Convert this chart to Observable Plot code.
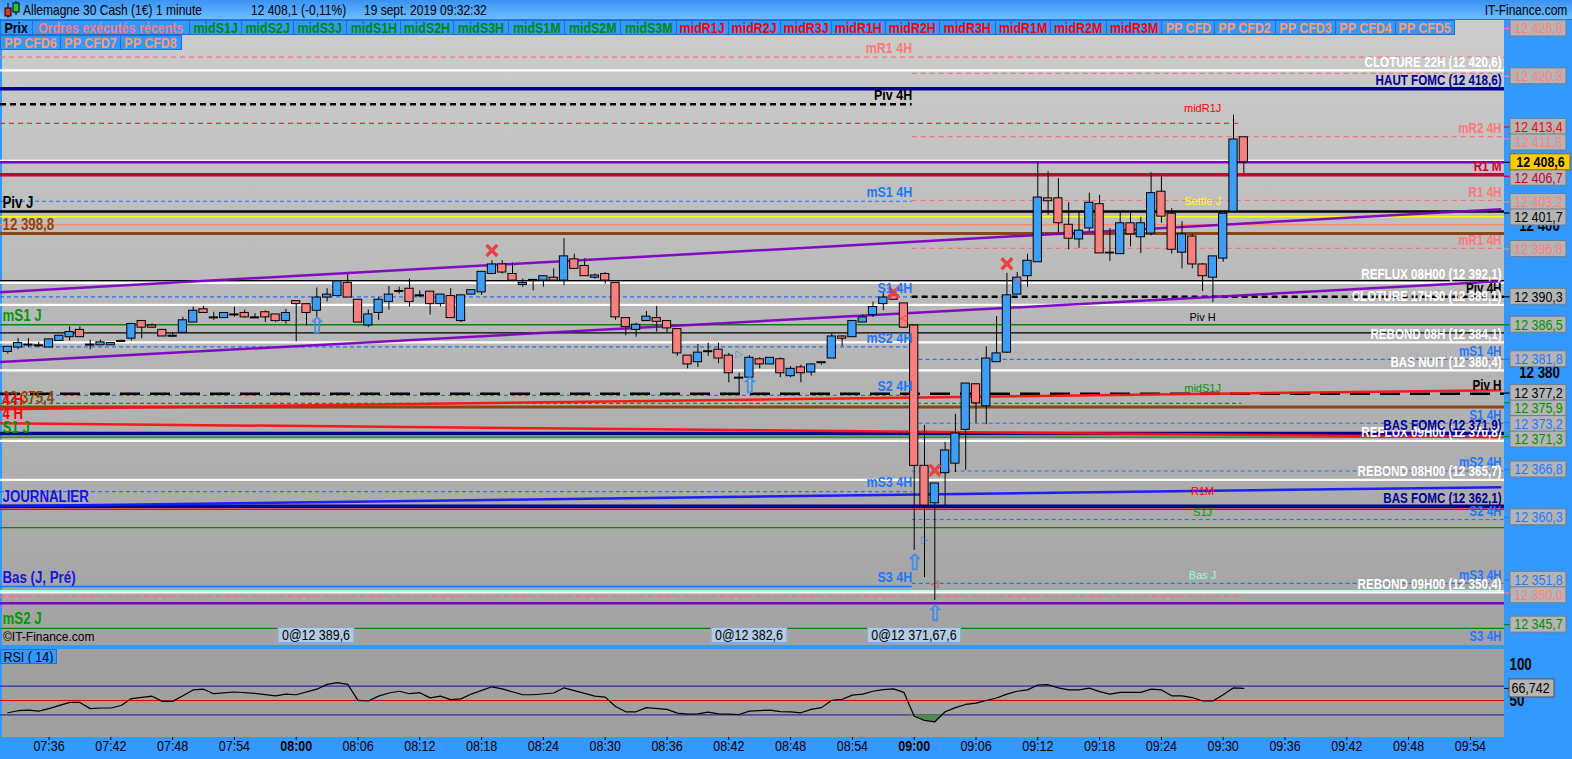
<!DOCTYPE html>
<html>
<head>
<meta charset="utf-8">
<script src="https://cdn.jsdelivr.net/npm/d3@7"></script>
<script src="https://cdn.jsdelivr.net/npm/@observablehq/plot@0.6"></script>
<style>
html,body{margin:0;padding:0}
body{width:1572px;height:759px;overflow:hidden;position:relative;background:#3399ff;font-family:"Liberation Sans Narrow","Arial Narrow","Liberation Sans",sans-serif}
.abs{position:absolute}
#title{left:0;top:0;width:1572px;height:19px;background:linear-gradient(#3a93f2,#6dbdff);border-bottom:1px solid #2277dd;font-size:15px;line-height:19px;color:#000}
#title span{position:absolute;top:0;white-space:nowrap;transform:scaleX(0.8);transform-origin:0 50%}
#title span.r{transform-origin:100% 50%}
#mainbg{left:2px;top:20px;width:1502px;height:625px;background:linear-gradient(#cccccc,#a2a2a2)}
#rsibg{left:2px;top:649px;width:1502px;height:88px;background:#a0a0a0}
.btn{position:absolute;box-sizing:border-box;height:15px;background:#3399ff;border:1px solid #1d70d6;font-weight:bold;font-size:15px;line-height:13px;display:flex;justify-content:center;white-space:nowrap;overflow:hidden}
.btn span{flex-shrink:0;display:inline-block;transform:scaleX(0.83);transform-origin:50% 50%}
.tag{position:absolute;box-sizing:border-box;height:16px;background:#b3cbe3;border:1px solid #86aad0;font-size:15px;line-height:14px;padding:0 4px;color:#000;white-space:nowrap;transform:translateX(-50%) scaleX(0.83)}
.rsilab{left:0;top:649px;width:57px;height:15px;background:#3399ff;border:1px solid #1d70d6;box-sizing:border-box;font-size:15px;line-height:13px;white-space:nowrap;overflow:hidden}
.rsilab span{display:inline-block;transform:scaleX(0.83);transform-origin:0 50%;padding-left:3px}
svg{overflow:visible}
</style>
</head>
<body>
<div id="title" class="abs">
  <svg width="18" height="19" style="position:absolute;left:3px;top:0"><line x1="5" y1="3" x2="5" y2="18" stroke="#000"/><rect x="2" y="8" width="6" height="8" fill="#e03030" stroke="#000"/><line x1="13" y1="1" x2="13" y2="15" stroke="#000"/><rect x="10" y="3" width="6" height="9" fill="#30c030" stroke="#000"/></svg>
  <span style="left:23px">Allemagne 30 Cash (1€)</span>
  <span style="left:156px">1 minute</span>
  <span style="left:251px">12 408,1 (-0,11%)</span>
  <span style="left:364px">19 sept. 2019 09:32:32</span>
  <span class="r" style="right:5px">IT-Finance.com</span>
</div>
<div id="mainbg" class="abs"></div>
<div id="rsibg" class="abs"></div>
<div class="abs" style="left:0;top:20px;width:2px;height:717px;background:#3399ff"></div>
<div id="main" class="abs" style="left:0;top:20px"></div>
<div id="axis" class="abs" style="left:1504px;top:20px"></div>
<div id="rsi" class="abs" style="left:0;top:648px"></div>
<div id="rsiaxis" class="abs" style="left:1504px;top:648px"></div>
<div id="buttons"></div>
<div id="tags"></div>
<div class="abs" style="left:3px;top:630px;font-size:12px;font-family:'Liberation Sans',sans-serif;color:#000">©IT-Finance.com</div>
<div class="abs rsilab"><span>RSI ( 14)</span></div>
<script>
// ================= DATA =================
const candleTime = ["07:32","07:33","07:34","07:35","07:36","07:37","07:38","07:39","07:40","07:41","07:42","07:43","07:44","07:45","07:46","07:47","07:48","07:49","07:50","07:51","07:52","07:53","07:54","07:55","07:56","07:57","07:58","07:59",
"08:00","08:01","08:02","08:03","08:04","08:05","08:06","08:07","08:08","08:09","08:10","08:11","08:12","08:13","08:14","08:15","08:16","08:17","08:18","08:19","08:20","08:21","08:22","08:23","08:24","08:25","08:26","08:27","08:28","08:29",
"08:30","08:31","08:32","08:33","08:34","08:35","08:36","08:37","08:38","08:39","08:40","08:41","08:42","08:43","08:44","08:45","08:46","08:47","08:48","08:49","08:50","08:51","08:52","08:53","08:54","08:55","08:56","08:57","08:58","08:59",
"09:00","09:01","09:02","09:03","09:04","09:05","09:06","09:07","09:08","09:09","09:10","09:11","09:12","09:13","09:14","09:15","09:16","09:17","09:18","09:19","09:20","09:21","09:22","09:23","09:24","09:25","09:26","09:27","09:28","09:29","09:30","09:31","09:32"];

const candleOpen = [12382.8,12383.4,12383.8,12383.7,12383.4,12384.3,12384.8,12385.8,12383.8,12383.7,12383.7,12384.3,12384.6,12387.0,12386.4,12385.8,12385.0,12385.4,12386.8,12388.6,12387.5,12387.4,12387.9,12388.1,12387.5,12388.2,12387.9,12387.0,
12389.7,12389.3,12388.4,12390.2,12390.4,12392.2,12389.9,12386.4,12388.1,12389.6,
12391.1,12391.4,12390.5,12391.0,12389.3,12390.4,12387.0,12390.6,12390.9,12393.4,
12394.7,12393.4,12391.9,12392.6,12392.5,12392.9,12392.5,12395.4,12394.5,12392.9,
12393.4,12392.2,12387.4,12385.8,12387.0,12387.4,12387.0,12385.9,12382.3,12381.4,
12382.9,12383.1,12382.3,12379.3,12379.3,12381.8,12381.1,12381.8,12379.5,12380.7,
12380.0,12381.4,12381.9,12384.9,12384.8,12386.8,12387.8,12389.3,12390.5,12389.4,
12386.4,12367.3,12362.2,12366.3,12367.6,12372.2,12378.4,12375.4,12381.4,12382.7,
12390.6,12393.1,12395.0,12403.7,12403.7,12400.1,12398.1,12399.6,12402.9,12396.3,
12396.1,12400.3,12398.4,12398.9,12404.6,12401.6,12396.3,12398.5,12394.7,12392.9,
12395.5,12401.9,12412.0];

const candleHigh = [12383.5,12384.6,12384.6,12384.1,12384.5,12385.0,12386.2,12386.2,12384.4,12384.4,12384.0,12384.4,12386.7,12387.1,12386.6,12385.8,12385.3,12387.5,12388.9,12389.0,12388.2,12388.1,12388.9,12388.5,12388.0,12388.4,12387.9,12388.6,
12389.7,12389.4,12391.5,12391.4,12392.4,12393.3,12389.9,12388.5,12390.2,12391.7,
12391.6,12392.7,12391.1,12391.0,12390.6,12391.4,12390.5,12391.2,12393.7,12395.2,
12395.2,12394.9,12392.7,12392.6,12393.1,12394.1,12398.2,12396.1,12395.5,12393.4,
12393.6,12392.2,12387.4,12386.7,12388.3,12389.0,12387.0,12385.9,12382.3,12383.8,
12384.0,12384.0,12382.6,12379.9,12382.3,12382.0,12382.0,12382.0,12380.8,12381.0,
12381.2,12381.5,12385.3,12385.0,12387.0,12387.8,12389.6,12390.8,12391.2,12389.4,
12386.4,12372.8,12364.9,12370.5,12374.3,12378.5,12378.4,12383.5,12387.6,12393.5,
12393.6,12396.1,12408.6,12407.3,12406.4,12403.1,12401.8,12404.4,12404.1,12399.6,
12401.8,12401.8,12401.1,12407.2,12406.7,12402.3,12400.5,12398.8,12394.8,12395.8,
12401.6,12415.0,12412.0];

const candleLow = [12382.5,12383.1,12383.4,12383.4,12383.4,12384.3,12384.3,12384.8,12383.1,12383.7,12383.7,12384.2,12384.3,12384.6,12386.0,12384.9,12384.8,12385.3,12386.8,12388.1,12387.1,12387.4,12387.5,12387.4,12387.4,12386.8,12386.8,12386.6,
12384.2,12386.3,12387.4,12389.6,12390.4,12390.2,12386.8,12386.1,12387.1,12388.5,
12390.7,12388.9,12390.2,12387.8,12388.9,12387.4,12386.8,12390.6,12390.5,12393.4,
12393.4,12392.5,12391.6,12391.1,12391.6,12392.5,12391.8,12394.1,12393.1,12392.7,
12392.0,12387.1,12385.0,12384.8,12387.0,12385.5,12385.4,12382.2,12380.5,12380.7,
12382.2,12381.2,12378.6,12377.0,12379.3,12380.5,12381.1,12379.3,12379.3,12378.6,
12379.5,12381.0,12381.9,12383.5,12384.8,12386.8,12387.5,12388.4,12389.9,12386.0,
12355.8,12352.1,12349.0,12361.9,12366.4,12366.7,12373.1,12372.9,12381.4,12382.6,
12390.6,12391.6,12395.0,12401.4,12399.0,12396.7,12396.9,12399.2,12396.2,12395.1,
12396.1,12397.1,12396.2,12398.6,12400.3,12396.1,12394.1,12394.1,12391.0,12389.5,
12395.0,12401.8,12407.1];

const candleClose = [12383.5,12384.0,12383.8,12383.7,12384.5,12385.0,12385.5,12384.8,12383.8,12384.1,12384.0,12384.3,12386.6,12386.1,12386.1,12384.9,12385.0,12387.1,12388.4,12388.1,12387.5,12388.1,12387.9,12387.5,12387.5,12387.5,12387.0,12388.1,
12389.3,12388.1,12390.2,12390.6,12392.4,12390.2,12386.8,12387.9,12389.9,12390.6,
12391.1,12389.6,12390.5,12389.3,12390.6,12387.4,12390.5,12391.2,12393.7,12394.7,
12393.6,12392.5,12392.2,12392.6,12393.1,12392.5,12395.8,12394.1,12393.1,12393.2,
12392.5,12387.5,12386.2,12386.5,12387.6,12386.9,12386.0,12382.6,12381.1,12382.7,
12382.9,12381.9,12379.9,12379.3,12382.0,12381.1,12382.0,12379.9,12380.5,12379.9,
12381.1,12381.4,12384.9,12384.6,12387.0,12387.5,12388.9,12390.2,12389.9,12386.1,
12367.3,12361.9,12364.9,12369.4,12371.7,12378.5,12375.8,12381.9,12382.6,12390.5,
12392.9,12395.2,12403.8,12403.3,12400.3,12398.2,12399.3,12403.1,12396.2,12396.2,
12400.3,12398.8,12400.3,12404.4,12401.2,12396.7,12398.8,12394.7,12393.1,12395.8,
12401.6,12411.7,12408.6];

const rsiTime = ["07:32","07:33","07:34","07:35","07:36","07:38","07:39","07:40","07:41","07:42","07:43","07:44","07:46","07:47","07:48","07:49","07:50","07:51","07:52","07:54","07:56","07:58","07:59","08:00",
"08:02","08:03","08:04","08:05","08:06","08:07","08:08","08:09","08:10","08:11","08:12","08:13","08:14","08:15","08:16","08:17","08:19","08:20","08:22","08:23","08:25","08:26","08:27",
"08:29","08:30","08:31","08:32","08:33","08:34","08:36","08:37","08:38","08:39","08:40","08:41","08:42","08:43","08:44",
"08:46","08:47","08:48","08:49","08:50","08:51","08:52","08:53","08:54","08:55","08:56","08:57","08:58","08:59",
"09:00","09:01","09:02","09:03","09:04","09:05","09:06","09:07","09:08","09:09","09:10","09:11","09:12","09:13","09:14","09:15","09:16","09:17","09:18","09:19","09:20","09:21","09:22","09:23","09:24","09:25","09:26","09:27","09:28","09:29","09:30","09:31","09:32"];
const rsiValue = [33.0,35.8,36.7,35.3,38.7,47.3,47.3,38.7,39.6,39.6,43.0,52.7,56.0,48.8,48.8,56.5,64.7,65.7,59.4,61.8,59.9,56.5,58.9,58.0,
65.7,72.4,74.8,72.4,50.2,49.3,56.0,60.4,62.8,59.4,60.8,53.6,56.0,51.2,52.2,58.9,69.0,66.1,58.0,58.0,60.4,67.6,63.7,
56.0,54.6,41.6,34.3,34.3,40.1,37.7,32.4,31.0,31.4,33.9,31.4,31.0,30.5,35.3,
36.7,34.5,34.3,32.9,37.7,40.1,50.2,51.7,57.5,58.9,62.8,65.2,66.1,61.3,
28.1,22.3,20.4,34.3,40.1,44.5,46.4,50.0,53.5,58.9,62.8,64.7,71.4,71.9,67.6,64.7,64.7,67.1,62.3,58.9,61.3,61.3,61.3,65.7,64.7,56.5,56.5,54.1,49.3,49.3,58.0,67.6,66.742];
const rsiBands = [30, 70];
const rsiMid = 50;
const rsiAxisTicks = [100, 50];

const timeTicks = ["07:36","07:42","07:48","07:54","08:00","08:06","08:12","08:18","08:24","08:30","08:36","08:42","08:48","08:54","09:00","09:06","09:12","09:18","09:24","09:30","09:36","09:42","09:48","09:54"];
const priceTicks = [12360, 12380, 12400, 12420];

// Horizontal levels: price, family, start time ("" = left edge), end time ("" = right edge)
const levelPrice  = [12422.9,12421.1,12420.7,12418.6,12416.5,12413.9,12412.1,12408.8,12408.6,12406.9,12403.3,12403.4,12401.9,12401.2,12400.1,12398.9,12396.9,12392.5,12392.2,12390.3,12390.3,12389.2,12386.5,12385.4,12384.1,12383.5,12381.8,12380.3,12377.1,12376.9,12375.8,12375.3,12373.1,12371.7,12371.2,12370.7,12366.6,12365.4,12363.8,12361.8,12361.4,12360.0,12358.9,12351.3,12350.9,12350.3,12350.1,12349.5,12348.6,12345.2];
const levelFamily = ["salmonDash","white","salmonDash","navy","blackDash","redDash","salmonDash","white","purple","crimson","blueDash","salmonDash","black2","yellow","salmonSolid","brown","salmonDash","blackThin","white","blackDash","blueDash","white","green","blackThin","white","blueDash","blueDash","white","blackLongDash","blueDash","greenDash","brown","blueDash","navy","green","white","blueDash","white","blueDash","navy","redThin","blueDash","green","blueDash","blueSolid","cyan","white","salmonDash","purple","green"];
const levelFrom   = ["","","09:00","","","","09:00","","","","","09:00","","","","","09:00","","","09:00","","","","","","","09:00","","","","","","09:00","","","","09:00","","","","","09:00","","09:00","","","","","",""];
const levelTo     = ["","","","","09:00","09:32","","","","","09:00","","","","","","","","","","09:00","","","","","09:00","","","","09:00","09:32","","","","","","","","09:00","","","","","","09:00","","","09:32","",""];

// Sloping trend lines
const trendFamily = ["purple","purple","red","red","blue"];
const trendStart = "07:31", trendEnd = "09:57";
const trendPriceStart = [12390.9, 12381.4, 12375.0, 12373.1, 12361.8];
const trendPriceEnd   = [12402.2, 12392.4, 12377.6, 12371.2, 12364.4];

// Labels right-aligned at the right edge of the chart
const rightLabelText = ["CLOTURE 22H (12 420,6)","HAUT FOMC (12 418,6)","mR2 4H","R1 M","R1 4H","mR1 4H","REFLUX 08H00 (12 392,1)","Piv 4H","CLOTURE 17H30 (12 389,1)","REBOND 08H (12 384,1)","mS1 4H","BAS NUIT (12 380,4)","Piv H","S1 4H","REFLUX 09H00 (12 370,8)","BAS FOMC (12 371,9)","mS2 4H","REBOND 08H00 (12 365,7)","BAS FOMC (12 362,1)","S2 4H","mS3 4H","REBOND 09H00 (12 350,4)","S3 4H"];
const rightLabelPrice = [12421.1,12418.6,12412.1,12406.9,12403.4,12396.9,12392.2,12390.3,12389.2,12384.1,12381.8,12380.3,12377.1,12373.1,12370.7,12371.7,12366.6,12365.4,12361.8,12360.0,12351.3,12350.1,12343.0];
const rightLabelFamily = ["white","navy","salmon","crimson","salmon","salmon","white","black","white","white","blue","white","black","blue","white","navy","blue","white","navy","blue","blue","white","blue"];
// Labels of the previous 4H session, ending at the 09:00 bar
const midLabelText = ["mR1 4H","Piv 4H","mS1 4H","S1 4H","mS2 4H","S2 4H","mS3 4H","S3 4H"];
const midLabelPrice = [12422.9,12416.5,12403.3,12390.3,12383.5,12376.9,12363.8,12350.9];
const midLabelFamily = ["salmon","black","blue","blue","blue","blue","blue","blue"];
// Labels at the left edge
const leftLabelText = ["Piv J","12 398,8","mS1 J","12 375,4","4 H","4 H","S1 J","JOURNALIER","Bas (J, Pré)","mS2 J"];
const leftLabelPrice = [12401.9,12398.9,12386.5,12375.3,12375.0,12373.1,12371.2,12361.8,12350.9,12345.2];
const leftLabelFamily = ["black","brown","green","brown","red","red","green","blueDark","blueDark","green"];
// Small labels near the last bars
const smallLabelTime = "09:28";
const smallLabelText = ["midR1J","Settle J","Piv H","midS1J","R1M","S1J","Bas J"];
const smallLabelPrice = [12413.9,12401.2,12385.4,12375.8,12361.8,12358.9,12350.3];
const smallLabelFamily = ["red","yellow","black","green","red","green","cyan"];
// Price boxes on the right axis
const axisBoxPrice = [12426.8,12420.3,12413.4,12411.8,12408.6,12406.7,12403.2,12401.7,12396.8,12390.3,12386.5,12381.8,12377.2,12375.9,12373.2,12371.3,12366.8,12360.3,12351.8,12350.0,12345.7];
const axisBoxFamily = ["salmon","salmon","red","salmon","current","crimson","salmon","black","salmon","black","green","blue","black","green","blue","green","blue","blue","blue","salmon","green"];
// Signals
const sellTime = ["08:19","09:09","09:02","08:58"];
const sellPrice = [12396.6,12394.8,12366.7,12390.9];
const buyTime = ["08:02","08:44","09:00","09:02"];
const buyPrice = [12386.4,12378.2,12354.1,12347.2];
const blueTriTime = ["08:02","08:43","09:01"];
const blueTriPrice = [12389.8,12382.6,12357.3];
const redTriTime = ["09:02","09:10","08:59"];
const redTriPrice = [12351.2,12392.8,12387.5];
// Executed order tags
const tagTime = ["08:02","08:44","09:00"];
const tagText = ["0@12 389,6","0@12 382,6","0@12 371,67,6"];
// Header buttons
const row1Buttons = ["Prix","Ordres exécutés récents","midS1J","midS2J","midS3J","midS1H","midS2H","midS3H","midS1M","midS2M","midS3M","midR1J","midR2J","midR3J","midR1H","midR2H","midR3H","midR1M","midR2M","midR3M","PP CFD","PP CFD2","PP CFD3","PP CFD4","PP CFD5"];
const row2Buttons = ["PP CFD6","PP CFD7","PP CFD8"];

// ================= LAYOUT / STYLE =================
const FONT = '"Liberation Sans Narrow","Arial Narrow","Liberation Sans",sans-serif';
const NARROW = 0.83;
const toMin = s => { const [h, m] = s.split(":").map(Number); return h * 60 + m; };
const X0 = 451.29, X1 = 597.31;           // visible time window (minutes)
const W = 1504, H = 625;
const P0 = 12342.86, P1 = 12427.89;       // visible price window
const R0 = -1.4, R1 = 122.2;              // visible RSI window
const fr = d3.formatLocale({decimal: ",", thousands: " ", grouping: [3], currency: ["", ""]});
const fmt1 = fr.format(",.1f"), fmt0 = fr.format(",.0f"), fmt3 = fr.format(".3f");
const fmtTime = m => String(Math.floor(m / 60)).padStart(2, "0") + ":" + String(m % 60).padStart(2, "0");

const lineStyle = {
  salmonDash: {stroke: "#ff7272", strokeWidth: 1.2, strokeDasharray: "5,4"},
  redDash: {stroke: "#ff2626", strokeWidth: 1.2, strokeDasharray: "5,4"},
  blueDash: {stroke: "#1f74ff", strokeWidth: 1.2, strokeDasharray: "4,3"},
  greenDash: {stroke: "#1c8a1c", strokeWidth: 1.2, strokeDasharray: "4,3"},
  blackDash: {stroke: "#000", strokeWidth: 2.5, strokeDasharray: "6,4"},
  blackLongDash: {stroke: "#000", strokeWidth: 2.5, strokeDasharray: "20,10"},
  white: {stroke: "#ffffff", strokeWidth: 2.2},
  navy: {stroke: "#000090", strokeWidth: 3.5},
  green: {stroke: "#0a840a", strokeWidth: 1.3},
  brown: {stroke: "#8b4513", strokeWidth: 3},
  blackThin: {stroke: "#000", strokeWidth: 1.2},
  black2: {stroke: "#000", strokeWidth: 2.5},
  purple: {stroke: "#8000c0", strokeWidth: 2.5},
  crimson: {stroke: "#cc0033", strokeWidth: 3.5},
  yellow: {stroke: "#ffff00", strokeWidth: 1.5},
  salmonSolid: {stroke: "#ff8866", strokeWidth: 1.3},
  redThin: {stroke: "#ff0000", strokeWidth: 1.5},
  cyan: {stroke: "#aaffe6", strokeWidth: 1.5},
  blueSolid: {stroke: "#1f74ff", strokeWidth: 1.5}
};
const lineOrder = ["salmonDash","redDash","blueDash","greenDash","blackDash","blackLongDash","white","green","blackThin","salmonSolid","yellow","black2","brown","cyan","blueSolid","purple","crimson","navy","redThin"];
const trendColor = {purple: "#8000c4", red: "#ff1010", blue: "#1515ff"};
const textColor = {white: "#ffffff", navy: "#000099", salmon: "#ff7878", crimson: "#cc0033", black: "#000000", blue: "#1f78ff", blueDark: "#1414e6", green: "#009a00", brown: "#8b4513", red: "#ff0000", yellow: "#ffff00", cyan: "#99ffdd"};
const boxTextColor = {salmon: "#ff8080", red: "#ff0000", crimson: "#c80032", black: "#000000", green: "#009000", blue: "#1f78ff", current: "#000000"};

// condense the glyphs of svg texts (no narrow font is installed), keeping positions and anchors
function narrow(svg, k) {
  svg.querySelectorAll("text").forEach(el => {
    const fs = parseFloat(getComputedStyle(el).fontSize);
    if (fs < 12 || el.textContent.length < 2) return;
    const w = el.getComputedTextLength();
    if (w > 0) {
      el.setAttribute("textLength", (w * k).toFixed(1));
      el.setAttribute("lengthAdjust", "spacingAndGlyphs");
    }
  });
}

// ================= BUILD DATA TABLES =================
const candles = candleTime.map((t, i) => ({t: toMin(t), o: candleOpen[i], h: candleHigh[i], l: candleLow[i], c: candleClose[i]}));
const upC = candles.filter(d => d.c > d.o), downC = candles.filter(d => d.c < d.o), flatC = candles.filter(d => d.c === d.o);
const levels = levelPrice.map((p, i) => ({
  p, fam: levelFamily[i],
  a: levelFrom[i] ? toMin(levelFrom[i]) - 0.2 : X0,
  b: levelTo[i] ? toMin(levelTo[i]) - 0.2 : X1
}));
const byFam = d3.group(levels, d => d.fam);
const trends = trendFamily.map((f, i) => ({a: toMin(trendStart), b: toMin(trendEnd), p1: trendPriceStart[i], p2: trendPriceEnd[i], c: trendColor[f]}));
const mk = (texts, prices, fams) => texts.map((t, i) => ({text: t, p: prices[i], c: textColor[fams[i]]}));
const rightLabels = mk(rightLabelText, rightLabelPrice, rightLabelFamily);
const midLabels = mk(midLabelText, midLabelPrice, midLabelFamily);
const leftLabels = mk(leftLabelText, leftLabelPrice, leftLabelFamily);
const smallLabels = mk(smallLabelText, smallLabelPrice, smallLabelFamily);
const rsi = rsiTime.map((t, i) => ({t: toMin(t), v: rsiValue[i]}));
const t4h = toMin("09:00") - 0.2;

// ================= MAIN CHART =================
const mainMarks = [];
for (const f of lineOrder) if (byFam.has(f)) mainMarks.push(Plot.ruleY(byFam.get(f), {y: "p", x1: "a", x2: "b", ...lineStyle[f]}));
mainMarks.push(
  Plot.link(trends, {x1: "a", y1: "p1", x2: "b", y2: "p2", stroke: "c", strokeWidth: 2.5, strokeOpacity: 0.95}),
  Plot.ruleX(candles, {x: "t", y1: "l", y2: "h", stroke: "#000", strokeWidth: 1}),
  Plot.rect(upC, {x1: d => d.t - 0.4, x2: d => d.t + 0.4, y1: "o", y2: "c", fill: "#3d9ef6", stroke: "#000", strokeWidth: 1}),
  Plot.rect(downC, {x1: d => d.t - 0.4, x2: d => d.t + 0.4, y1: "o", y2: "c", fill: "#f67f7f", stroke: "#000", strokeWidth: 1}),
  Plot.ruleY(flatC, {y: "o", x1: d => d.t - 0.45, x2: d => d.t + 0.45, stroke: "#000", strokeWidth: 2}),
  Plot.dot(sellTime.map((t, i) => ({t: toMin(t), p: sellPrice[i]})), {x: "t", y: "p", symbol: "times", r: 5, stroke: "#e64444", strokeWidth: 3.5}),
  Plot.text(buyTime.map((t, i) => ({t: toMin(t), p: buyPrice[i]})), {x: "t", y: "p", text: () => "⇧", fill: "#3d8fe8", stroke: "#3d8fe8", strokeWidth: 0.6, fontSize: 22, fontFamily: "DejaVu Sans"}),
  Plot.text(blueTriTime.map((t, i) => ({t: toMin(t), p: blueTriPrice[i]})), {x: "t", y: "p", text: () => "▷", fill: "#3d8fe8", fontSize: 10, fontFamily: "DejaVu Sans"}),
  Plot.text(redTriTime.map((t, i) => ({t: toMin(t), p: redTriPrice[i]})), {x: "t", y: "p", text: () => "◁", fill: "#e03030", fontSize: 10, fontFamily: "DejaVu Sans"}),
  Plot.text(rightLabels, {y: "p", text: "text", fill: "c", frameAnchor: "right", textAnchor: "end", dx: -3, dy: -8, fontSize: 14, fontWeight: "bold"}),
  Plot.text(midLabels, {x: () => t4h, y: "p", text: "text", fill: "c", textAnchor: "end", dy: -9, fontSize: 15, fontWeight: "bold"}),
  Plot.text(leftLabels, {y: "p", text: "text", fill: "c", frameAnchor: "left", textAnchor: "start", dx: 2, dy: -9, fontSize: 16, fontWeight: "bold"}),
  Plot.text(smallLabels, {x: () => toMin(smallLabelTime), y: "p", text: "text", fill: "c", dy: -15, fontSize: 11, fontFamily: "Liberation Sans, sans-serif"})
);
const mainPlot = Plot.plot({
  width: W, height: H, margin: 0,
  x: {domain: [X0, X1], axis: null},
  y: {domain: [P0, P1], axis: null},
  color: {type: "identity"},
  style: {background: "transparent", fontFamily: FONT, overflow: "visible"},
  marks: mainMarks
});
document.getElementById("main").append(mainPlot);
narrow(mainPlot, NARROW);

// ================= RIGHT PRICE AXIS =================
const ys = d3.scaleLinear([P0, P1], [H, 0]);
const boxes = axisBoxPrice.map((p, i) => ({p, fam: axisBoxFamily[i], label: fmt1(p), c: boxTextColor[axisBoxFamily[i]]})).sort((a, b) => b.p - a.p);
let prevY = -Infinity;
for (const b of boxes) {
  let py = ys(b.p);
  if (py < prevY + 15.5) py = prevY + 15.5;
  prevY = py;
  b.ym = ys.invert(py); b.y1 = ys.invert(py - 8); b.y2 = ys.invert(py + 8);
}
const normalBoxes = boxes.filter(b => b.fam !== "current"), curBoxes = boxes.filter(b => b.fam === "current");
const axisPlot = Plot.plot({
  width: 68, height: H, margin: 0,
  y: {domain: [P0, P1], axis: null},
  color: {type: "identity"},
  style: {background: "transparent", fontFamily: FONT, overflow: "visible"},
  marks: [
    Plot.text(priceTicks, {y: d => d, text: d => fmt0(d), frameAnchor: "middle", dx: 1, fontSize: 16, fontWeight: "bold", fill: "#000"}),
    Plot.ruleY(boxes, {y: "p", stroke: "c", insetRight: 61, strokeWidth: 1.2}),
    Plot.rect(normalBoxes, {y1: "y1", y2: "y2", fill: "#b4b4b4", stroke: "#6d7f92", insetLeft: 6, insetRight: 6}),
    Plot.text(normalBoxes, {y: "ym", text: "label", fill: "c", frameAnchor: "middle", fontSize: 15}),
    Plot.rect(curBoxes, {y1: "y1", y2: "y2", fill: "#ffcc00", stroke: "#7a6a30", insetLeft: 6, insetRight: 2}),
    Plot.text(curBoxes, {y: "ym", text: "label", fill: "c", frameAnchor: "middle", dx: 2, fontSize: 15, fontWeight: "bold"})
  ]
});
document.getElementById("axis").append(axisPlot);
narrow(axisPlot, NARROW);

// ================= RSI PANEL =================
const yr = d3.scaleLinear([R0, R1], [89, 0]);
const tickMins = timeTicks.map(toMin);
const rsiPlot = Plot.plot({
  width: W, height: 111, marginTop: 0, marginLeft: 0, marginRight: 0, marginBottom: 22,
  x: {domain: [X0, X1], axis: null},
  y: {domain: [R0, R1], axis: null},
  style: {background: "transparent", fontFamily: FONT, overflow: "visible"},
  marks: [
    Plot.ruleY(rsiBands, {stroke: "#2d2d9e", strokeWidth: 1.2}),
    Plot.ruleY([rsiMid], {stroke: "#e00000", strokeWidth: 1.2}),
    Plot.areaY(rsi, {x: "t", y1: () => 30, y2: d => Math.min(d.v, 30), fill: "#4f8a4f"}),
    Plot.line(rsi, {x: "t", y: "v", stroke: "#000", strokeWidth: 1.2}),
    Plot.ruleX(tickMins, {x: d => d, y1: () => R0, y2: () => yr.invert(92), stroke: "#000"}),
    Plot.text(tickMins.filter(m => m % 60 !== 0), {x: d => d, frameAnchor: "bottom", dy: 13, text: fmtTime, fontSize: 15, fill: "#000"}),
    Plot.text(tickMins.filter(m => m % 60 === 0), {x: d => d, frameAnchor: "bottom", dy: 13, text: fmtTime, fontSize: 15, fontWeight: "bold", fill: "#000"})
  ]
});
document.getElementById("rsi").append(rsiPlot);
narrow(rsiPlot, NARROW);

const rsiLast = rsi[rsi.length - 1].v;
const rsiAxisPlot = Plot.plot({
  width: 68, height: 89, margin: 0,
  y: {domain: [R0, R1], axis: null},
  style: {background: "transparent", fontFamily: FONT, overflow: "visible"},
  marks: [
    Plot.text(rsiAxisTicks, {y: d => d, text: d => String(d), frameAnchor: "left", textAnchor: "start", dx: 5, fontSize: 16, fontWeight: "bold", fill: "#000"}),
    Plot.ruleY([rsiLast], {insetRight: 61, stroke: "#000"}),
    Plot.rect([rsiLast], {y1: d => yr.invert(yr(d) - 9), y2: d => yr.invert(yr(d) + 9), fill: "#b4b4b4", stroke: "#555", insetLeft: 5, insetRight: 18}),
    Plot.text([rsiLast], {y: d => d, text: d => fmt3(d), frameAnchor: "left", textAnchor: "start", dx: 7, fontSize: 15, fill: "#000"})
  ]
});
document.getElementById("rsiaxis").append(rsiAxisPlot);
narrow(rsiAxisPlot, NARROW);

// ================= HEADER BUTTONS & TAGS =================
const row1Edges = [0,32,189,241,293,346,400,453,508,564,620,676,728,780,831,885,939,995,1050,1106,1161,1214,1275,1335,1395,1454];
const row2Edges = [0,60,120,181];
const btnColor = t => t === "Prix" ? "#000" : t.startsWith("Ordres") ? "#ff7a7a" : t.startsWith("midS") ? "#008a00" : t.startsWith("midR") ? "#ff0000" : "#ff9a6a";
const bdiv = document.getElementById("buttons");
const addRow = (names, edges, top) => names.forEach((n, i) => {
  const d = document.createElement("div");
  d.className = "btn";
  const s = document.createElement("span"); s.textContent = n; d.append(s);
  d.style.left = edges[i] + "px"; d.style.width = (edges[i + 1] - edges[i] + 1) + "px"; d.style.top = top + "px";
  d.style.color = btnColor(n);
  bdiv.append(d);
});
addRow(row1Buttons, row1Edges, 20);
addRow(row2Buttons, row2Edges, 35);

const xs = d3.scaleLinear([X0, X1], [0, W]);
const tdiv = document.getElementById("tags");
tagTime.forEach((t, i) => {
  const d = document.createElement("div");
  d.className = "tag"; d.textContent = tagText[i];
  d.style.left = xs(toMin(t)) + "px"; d.style.top = "627px";
  tdiv.append(d);
});
</script>
</body>
</html>
